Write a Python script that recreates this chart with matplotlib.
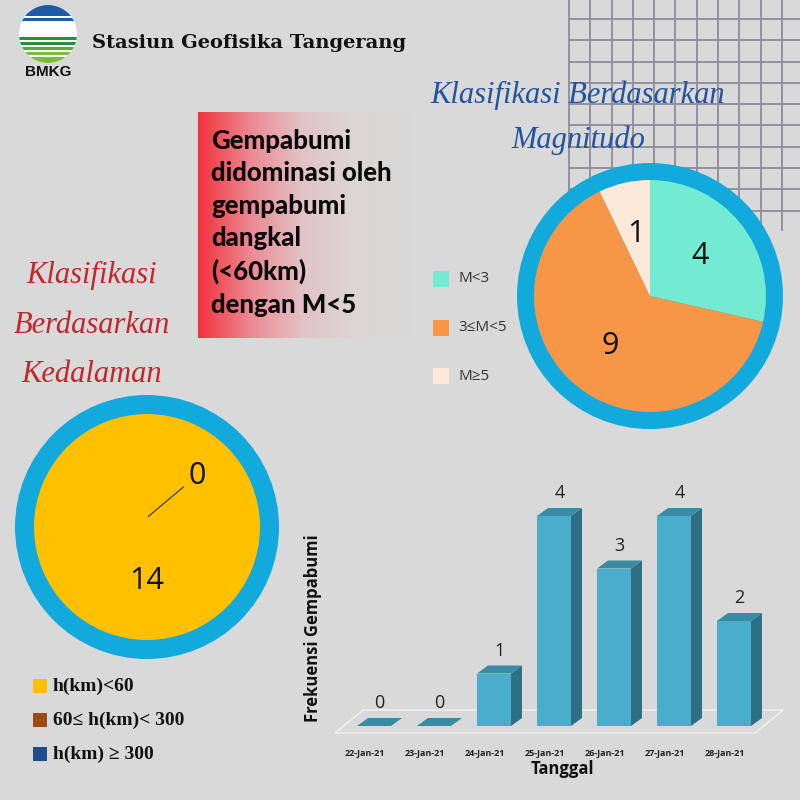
"""
Infografis gempabumi Stasiun Geofisika Tangerang, 22-28 Jan 2021.
"""

import numpy as np
import matplotlib.pyplot as plt
from matplotlib.patches import Circle, Rectangle, Polygon
from matplotlib.colors import LinearSegmentedColormap

# data
mag_labels = ['M<3', '3≤M<5', 'M≥5']
mag_counts = [4, 9, 1]
mag_colors = ['#72ebd2', '#f79646', '#fde9d9']

depth_labels = ['h(km)<60', '60≤ h(km)< 300', 'h(km) ≥ 300']
depth_counts = [14, 0, 0]
depth_colors = ['#ffc000', '#9c4a12', '#1f4e8c']

dates = ['22-Jan-21', '23-Jan-21', '24-Jan-21', '25-Jan-21',
         '26-Jan-21', '27-Jan-21', '28-Jan-21']
freq = [0, 0, 1, 4, 3, 4, 2]

BG = '#d9d9d9'
RING = '#12a9dd'
W = H = 800


def px(x0, y0, w, h):
    # pixel box (top-left origin) -> figure fraction
    return [x0 / W, 1 - (y0 + h) / H, w / W, h / H]


fig = plt.figure(figsize=(8, 8), dpi=100)
fig.patch.set_facecolor(BG)

# background layer in pixel coordinates
bg = fig.add_axes([0, 0, 1, 1], zorder=0)
bg.axis('off')

# grid decoration top right
for gx in np.arange(569, 801, 21.3):
    bg.plot([gx, gx], [0, 230], color='#8d8d9c', lw=1.3)
for gy in np.arange(19, 231, 21.3):
    bg.plot([569, 800], [gy, gy], color='#8d8d9c', lw=1.3)

# BMKG logo
logo = Circle((48, 34), 29, facecolor='white', edgecolor='none')
bg.add_patch(logo)
bands = [(4, 10, '#1f5aa6'), (13, 3, '#1f5aa6'), (18, 2.5, '#1f5aa6'),
         (37, 3, '#2e8b3a'), (42, 3, '#2e8b3a'), (47, 3, '#5aa83a'),
         (52, 3, '#7dbb3c'), (57, 7, '#7dbb3c')]
for y0, hh, c in bands:
    r = Rectangle((15, y0), 66, hh, facecolor=c, edgecolor='none')
    bg.add_patch(r)
    r.set_clip_path(logo)
bg.text(48, 72, 'BMKG', ha='center', va='center', fontsize=11,
        fontweight='bold', family='Liberation Sans', color='#111')
bg.text(92, 43, 'Stasiun Geofisika Tangerang', ha='left', va='center',
        fontsize=14, fontweight='bold', family='DejaVu Serif', color='#111')

# gradient box
cmap = LinearSegmentedColormap.from_list(
    'fade', ['#f0323e', '#ec8a92', '#e2c4c7', '#dcd6d6', BG])
bg.imshow(np.linspace(0, 1, 256)[None, :], cmap=cmap, aspect='auto',
          extent=[198, 410, 338, 112], zorder=1)
bg.set_xlim(0, W)
bg.set_ylim(H, 0)
bg.text(211, 129, 'Gempabumi\ndidominasi oleh\ngempabumi\ndangkal\n(<60km)\ndengan M<5',
        ha='left', va='top', fontsize=18.5, fontweight='black', family='Lato',
        color='#0a0a0a', linespacing=1.42, zorder=2)

# script titles
bg.text(578, 118, 'Klasifikasi Berdasarkan\nMagnitudo', ha='center', va='center',
        fontsize=22, style='italic', family='Liberation Serif', color='#2352a0',
        linespacing=1.7, zorder=3)
bg.text(92, 325, 'Klasifikasi\nBerdasarkan\nKedalaman', ha='center', va='center',
        fontsize=22, style='italic', family='Liberation Serif', color='#c0272d',
        linespacing=1.95, zorder=3)

# magnitude pie
ax_m = fig.add_axes(px(650 - 133, 296 - 133, 266, 266), zorder=2)
ax_m.add_patch(Circle((0, 0), 1, facecolor=RING, edgecolor='none'))
ax_m.pie(mag_counts, colors=mag_colors, startangle=90, counterclock=False,
         radius=0.872, labels=[str(v) for v in mag_counts], labeldistance=0.55,
         textprops=dict(fontsize=22, family='Open Sans', color='#111',
                        ha='center', va='center'),
         wedgeprops=dict(linewidth=0))
ax_m.set_xlim(-1, 1)
ax_m.set_ylim(-1, 1)
ax_m.set_aspect('equal')
ax_m.axis('off')

for i, (lab, c) in enumerate(zip(mag_labels, mag_colors)):
    cy = 279 + i * 48.5
    bg.add_patch(Rectangle((433, cy - 8), 16, 16, facecolor=c, edgecolor='none'))
    bg.text(458, cy, lab, ha='left', va='center', fontsize=11,
            family=['Open Sans', 'DejaVu Sans'], color='#333')

# depth pie
ax_d = fig.add_axes(px(147 - 132, 527 - 132, 264, 264), zorder=2)
ax_d.add_patch(Circle((0, 0), 1, facecolor=RING, edgecolor='none'))
ax_d.pie(depth_counts, colors=depth_colors, startangle=90, counterclock=False,
         radius=0.856, labels=[str(v) if v else '' for v in depth_counts],
         labeldistance=0.48,
         textprops=dict(fontsize=22, family='Open Sans', color='#111',
                        ha='center', va='center'),
         wedgeprops=dict(linewidth=0))
ax_d.annotate(str(depth_counts[1]), xy=(0.01, 0.08), xytext=(0.38, 0.39),
              ha='center', va='center', fontsize=22, family='Open Sans', color='#111',
              arrowprops=dict(arrowstyle='-', color='#3a2a10', lw=0.8,
                              shrinkA=2, shrinkB=0))
ax_d.set_xlim(-1, 1)
ax_d.set_ylim(-1, 1)
ax_d.set_aspect('equal')
ax_d.axis('off')

for i, (lab, c) in enumerate(zip(depth_labels, depth_colors)):
    cy = 686 + i * 34
    bg.add_patch(Rectangle((33, cy - 7), 14, 14, facecolor=c, edgecolor='none'))
    bg.text(53, cy, lab, ha='left', va='center', fontsize=14, fontweight='bold',
            family=['Liberation Serif', 'DejaVu Serif'], color='#111')

# pseudo-3D bar chart
ax_b = fig.add_axes(px(320, 480, 470, 265), zorder=2)
x = np.arange(len(freq))
unit_px = 60.0
val_px = 52.5
bw = 34 / unit_px
dx = 11 / unit_px
dy = 8 / val_px
x0 = 2 - (494 - 320) / unit_px
ax_b.set_xlim(x0, x0 + 470 / unit_px)
ax_b.set_ylim(-(745 - 726) / val_px, (726 - 480) / val_px)
ax_b.patch.set_alpha(0)

# floor
fy0, fy1 = -7 / val_px, 16 / val_px
floor = Polygon([(x[0] - 0.65, fy0), (x[-1] + 0.35, fy0),
                 (x[-1] + 0.82, fy1), (x[0] - 0.18, fy1)],
                closed=True, facecolor='none', edgecolor='#f2f2f2', lw=1.0, zorder=1)
ax_b.add_patch(floor)

front, side, top = '#4aadcb', '#2f6f85', '#3a8ca6'
ax_b.bar(x, freq, width=bw, color=front, zorder=3, linewidth=0)
for xi, v in zip(x, freq):
    l, r = xi - bw / 2, xi + bw / 2
    ax_b.add_patch(Polygon([(r, 0), (r + dx, dy), (r + dx, v + dy), (r, v)],
                           facecolor=side, edgecolor='none', zorder=3))
    ax_b.add_patch(Polygon([(l, v), (r, v), (r + dx, v + dy), (l + dx, v + dy)],
                           facecolor=top, edgecolor='none', zorder=3))
    ax_b.annotate(str(v), (xi + dx / 2, v + dy), xytext=(0, 4),
                  textcoords='offset points', ha='center', va='bottom',
                  fontsize=13, family='Open Sans', color='#222')

ax_b.set_xticks(x - 0.15)
ax_b.set_xticklabels(dates, fontsize=6.5, fontweight='bold',
                     family='Open Sans', color='#222')
ax_b.tick_params(axis='x', length=0, pad=3)
ax_b.set_yticks([])
for s in ax_b.spines.values():
    s.set_visible(False)
ax_b.set_xlabel('Tanggal', fontsize=12, fontweight='bold', family='Open Sans',
                color='#111')
ax_b.xaxis.set_label_coords((562 - 320) / 470, (745 - 760) / 265)
ax_b.set_ylabel('Frekuensi Gempabumi', fontsize=12, fontweight='bold',
                family='Open Sans', color='#111')
ax_b.yaxis.set_label_coords((322 - 320) / 470, (745 - 628) / 265)

fig.savefig('out.png', dpi=100, facecolor=BG)
